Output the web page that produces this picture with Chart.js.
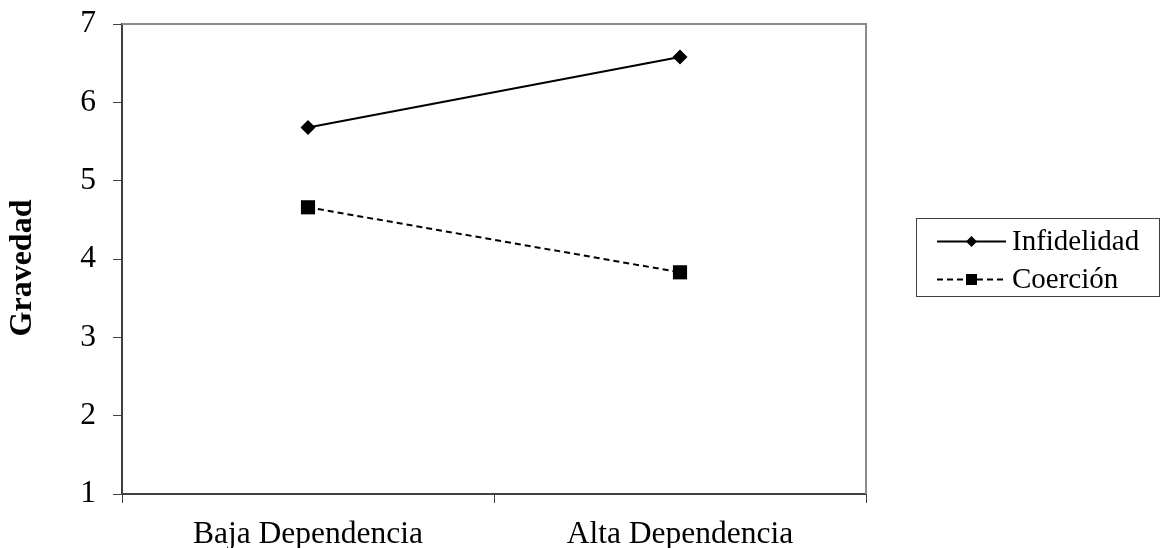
<!DOCTYPE html>
<html>
<head>
<meta charset="utf-8">
<script src="https://cdn.jsdelivr.net/npm/chart.js@4/dist/chart.umd.min.js"></script>
<style>
  html, body { margin: 0; padding: 0; background: #fff; }
  #wrap { width: 1162px; height: 548px; }
</style>
</head>
<body>
<div id="wrap"><canvas id="c" width="1162" height="548"></canvas></div>
<script>
// Categories and series
const categories = ['Baja Dependencia', 'Alta Dependencia'];
const infidelidad = [5.68, 6.58];
const coercion = [4.66, 3.83];
const seriesNames = ['Infidelidad', 'Coerción'];
const yTicks = [1, 2, 3, 4, 5, 6, 7];
const yTitle = 'Gravedad';

const FONT = "'Liberation Serif', 'Times New Roman', serif";
const AXIS = '#404040';

// Grey frame on the top and right of the plot area
const frame = {
  id: 'frame',
  afterDraw(chart) {
    const { ctx, chartArea: a } = chart;
    ctx.save();
    ctx.strokeStyle = '#8a8a8a';
    ctx.lineWidth = 2;
    ctx.beginPath();
    ctx.moveTo(a.left, a.top);
    ctx.lineTo(a.right, a.top);
    ctx.lineTo(a.right, a.bottom);
    ctx.stroke();
    ctx.restore();
  }
};

// Rotated, bold axis title placed slightly below the plot's middle
const axisTitle = {
  id: 'axisTitle',
  afterDraw(chart) {
    const { ctx, chartArea: a } = chart;
    ctx.save();
    ctx.translate(22.7, (a.top + a.bottom) / 2 + 9);
    ctx.rotate(-Math.PI / 2);
    ctx.font = 'bold 32px ' + FONT;
    ctx.fillStyle = '#000';
    ctx.textAlign = 'center';
    ctx.textBaseline = 'middle';
    ctx.fillText(yTitle, 0, 0);
    ctx.restore();
  }
};

// Boxed legend with a line + marker sample for each series
const boxLegend = {
  id: 'boxLegend',
  afterDraw(chart) {
    const { ctx } = chart;
    const box = { x: 916.5, y: 218.5, w: 243, h: 78 };
    const rows = [241.5, 279.5];
    ctx.save();
    ctx.strokeStyle = '#404040';
    ctx.lineWidth = 1;
    ctx.strokeRect(box.x, box.y, box.w, box.h);
    chart.data.datasets.forEach((ds, i) => {
      const y = rows[i];
      ctx.strokeStyle = '#000';
      ctx.lineWidth = 2;
      ctx.setLineDash(ds.borderDash || []);
      ctx.beginPath();
      ctx.moveTo(937, y);
      ctx.lineTo(1006, y);
      ctx.stroke();
      ctx.setLineDash([]);
      ctx.fillStyle = '#000';
      const cx = 971.5;
      ctx.beginPath();
      if (ds.pointStyle === 'rectRot') {
        const r = 5.5;
        ctx.moveTo(cx - r, y); ctx.lineTo(cx, y - r);
        ctx.lineTo(cx + r, y); ctx.lineTo(cx, y + r);
        ctx.closePath();
      } else {
        const s = 5.5;
        ctx.rect(cx - s, y - s, 2 * s, 2 * s);
      }
      ctx.fill();
      ctx.font = '29px ' + FONT;
      ctx.textBaseline = 'middle';
      ctx.textAlign = 'left';
      ctx.fillText(ds.label, 1012, y + 1);
    });
    ctx.restore();
  }
};

new Chart(document.getElementById('c'), {
  type: 'line',
  data: {
    labels: categories,
    datasets: [
      {
        label: seriesNames[0],
        data: infidelidad,
        borderColor: '#000',
        backgroundColor: '#000',
        borderWidth: 2,
        pointStyle: 'rectRot',
        pointRadius: 7.5,
        pointBorderWidth: 0,
        fill: false,
        tension: 0
      },
      {
        label: seriesNames[1],
        data: coercion,
        borderColor: '#000',
        backgroundColor: '#000',
        borderWidth: 2,
        borderDash: [6, 4],
        pointStyle: 'rect',
        pointRadius: 10,
        pointBorderWidth: 0,
        fill: false,
        tension: 0
      }
    ]
  },
  options: {
    responsive: false,
    animation: false,
    devicePixelRatio: 1,
    layout: { padding: { left: 0, top: 24, right: 296, bottom: 0 } },
    plugins: { legend: { display: false }, tooltip: { enabled: false } },
    scales: {
      x: {
        offset: true,
        grid: { offset: true, drawOnChartArea: false, drawTicks: true, tickLength: 9, color: AXIS, lineWidth: 1 },
        border: { color: AXIS, width: 2 },
        ticks: { color: '#000', font: { family: FONT, size: 31.5 }, padding: 13, maxRotation: 0 },
        afterFit(s) { s.height = 54; s.paddingLeft = 0; s.paddingRight = 0; }
      },
      y: {
        min: 1, max: 7,
        afterBuildTicks(s) { s.ticks = yTicks.map(v => ({ value: v })); },
        grid: { drawOnChartArea: false, drawTicks: true, tickLength: 9, color: AXIS, lineWidth: 1 },
        border: { color: AXIS, width: 2 },
        ticks: { color: '#000', font: { family: FONT, size: 31.5 }, padding: 17 },
        title: { display: false },
        afterFit(s) { s.width = 122; s.paddingTop = 0; s.paddingBottom = 0; }
      }
    }
  },
  plugins: [frame, axisTitle, boxLegend]
});
</script>
</body>
</html>
